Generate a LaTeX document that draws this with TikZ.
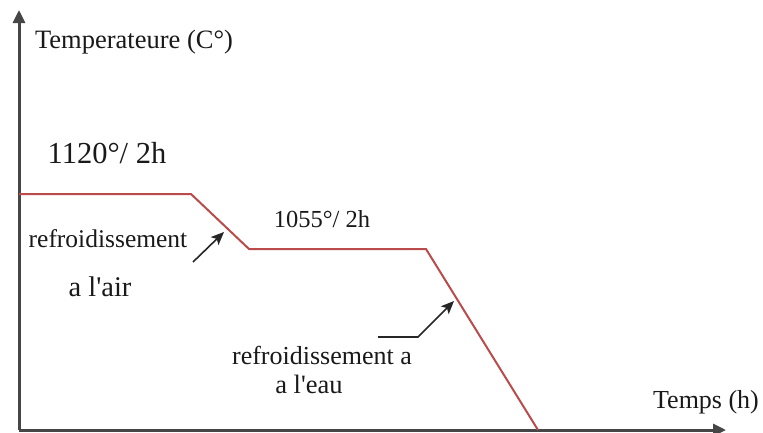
\documentclass[tikz,border=0pt]{standalone}
\usepackage{fontspec}
\setmainfont{Liberation Serif}
\usetikzlibrary{arrows.meta}
\definecolor{curvered}{RGB}{185,75,75}
\definecolor{axisgray}{RGB}{70,70,70}
\tikzset{
  axisline/.style={line width=3pt, draw=axisgray, -{Triangle[length=13pt,width=12pt]}},
  curveline/.style={line width=2pt, draw=curvered, line join=miter},
  pointer/.style={line width=1.6pt, draw=black!85, -{Stealth[length=13pt,width=11pt,inset=3pt]}},
  lbl/.style={inner sep=0pt, text=black!90},
}
\newcommand{\fs}[1]{\fontsize{#1}{#1}\selectfont}
\begin{document}
\begin{tikzpicture}[x=1pt,y=-1pt]
\useasboundingbox (0,0) rectangle (763,432);
\coordinate (o) at (19,430);
\coordinate (ytop) at (19,10);
\coordinate (xend) at (726,430);
\draw[axisline] (o) -- (ytop);
\draw[axisline] (o) -- (xend);
\coordinate (p0) at (19,194);
\coordinate (p1) at (191,194);
\coordinate (p2) at (249,249);
\coordinate (p3) at (426,249);
\coordinate (p4) at (538,430);
\draw[curveline] (p0) -- (p1) -- (p2) -- (p3) -- (p4);
\node[lbl] (ylab) at (134,42) {\fs{26.5}Temperateure (C°)};
\node[lbl] (xlab) at (706,402) {\fs{26}Temps (h)};
\node[lbl] (t1) at (107,153) {\fs{30.5}1120°/ 2h};
\node[lbl] (t2) at (322,219) {\fs{24.5}1055°/ 2h};
\node[lbl] (r1) at (108,239) {\fs{25.5}refroidissement};
\node[lbl] (r1b) at (100,287) {\fs{28.5}a l\textquotesingle air};
\node[lbl] (r2) at (322,355) {\fs{26}refroidissement a};
\node[lbl] (r2b) at (309,384) {\fs{26.5}a l\textquotesingle eau};
\coordinate (a1s) at (193,262);
\coordinate (a1e) at (224,232);
\draw[pointer] (a1s) -- (a1e);
\coordinate (a2s) at (378,337);
\coordinate (a2m) at (418,337);
\coordinate (a2e) at (454,301);
\draw[pointer] (a2s) -- (a2m) -- (a2e);
\end{tikzpicture}
\end{document}
